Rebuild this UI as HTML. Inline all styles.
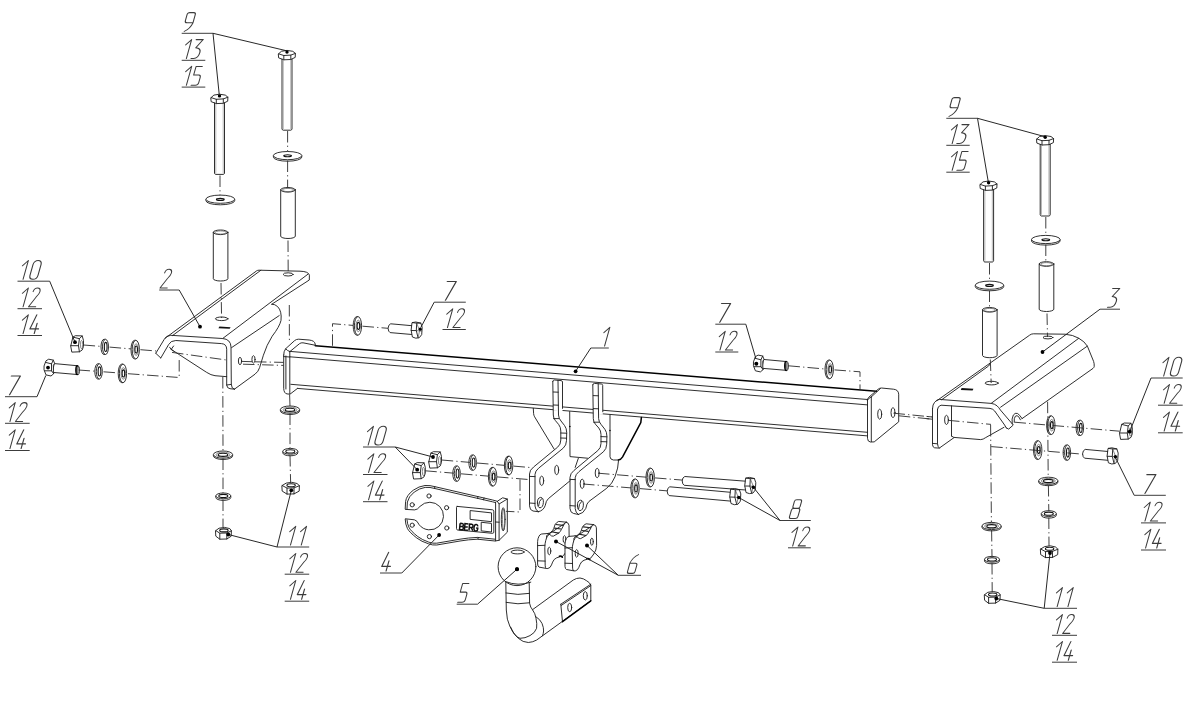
<!DOCTYPE html>
<html><head><meta charset="utf-8"><title>Tow bar exploded diagram</title>
<style>
html,body{margin:0;padding:0;background:#fff}
svg{display:block}
.l{fill:none;stroke:#1c1c1c;stroke-width:.92;stroke-linejoin:round;stroke-linecap:round}
.lf{fill:#fff;stroke:#1c1c1c;stroke-width:.92;stroke-linejoin:round;stroke-linecap:round}
.l2{fill:none;stroke:#555;stroke-width:.7;stroke-linejoin:round}
.l3{fill:none;stroke:#8a8a8a;stroke-width:.6}
.lm{fill:none;stroke:#222;stroke-width:1.15;stroke-linecap:round}
.lb{fill:none;stroke:#000;stroke-width:1.5;stroke-linejoin:round;stroke-linecap:round}
.t{fill:none;stroke:#3c3c3c;stroke-width:1.05;stroke-linejoin:round;stroke-linecap:round}
.u{fill:none;stroke:#3c3c3c;stroke-width:1}
.ld{fill:none;stroke:#1c1c1c;stroke-width:.95}
.c{fill:none;stroke:#2a2a2a;stroke-width:.9;stroke-dasharray:11.5 3.2 1.2 3.2}
.d{fill:#000;stroke:none}
.w{fill:#fff;stroke:#1c1c1c;stroke-width:.9}
.wg{fill:none;stroke:#777;stroke-width:.9}
.wd{fill:#fff;stroke:#111;stroke-width:1.1}
.k{fill:#111;stroke:none}
.wf{fill:#fff;stroke:none}
</style></head>
<body>
<svg width="1200" height="703" viewBox="0 0 1200 703" font-family="Liberation Sans, sans-serif">
<rect width="1200" height="703" fill="#fff"/>
<path class="u" d="M181.7,33.3 L213.0,33.3"/>
<path class="t" transform="matrix(1.05 0 -0.280 1 187.66 12.60)" d="M2,0 H5.8 Q7.8,0 7.8,2 V10.2 H2 Q0,10.2 0,8.2 V2 Q0,0 2,0Z M7.8,10.2 Q6.6,16 1.8,18.8"/>
<path class="u" d="M181.7,60.3 L205.3,60.3"/>
<path class="t" transform="matrix(1.02 0 -0.280 1 187.16 39.60)" d="M0,5.3 L4.4,0 V18.8"/>
<path class="t" transform="matrix(1.1 0 -0.280 1 195.86 39.60)" d="M0.3,0 H6.7 L2.0,8.1 Q6.9,8.6 6.9,12.6 Q6.9,18.8 2.8,18.8 H0.4"/>
<path class="u" d="M181.7,87.1 L205.3,87.1"/>
<path class="t" transform="matrix(1.02 0 -0.280 1 187.16 66.40)" d="M0,5.3 L4.4,0 V18.8"/>
<path class="t" transform="matrix(1.0 0 -0.280 1 196.06 66.40)" d="M6.2,0 H0 V8.6 H5.2 Q7.2,8.8 7.2,11 V16 Q7.2,18.8 4.6,18.8 H0.3"/>
<path class="u" d="M17.5,281.2 L49.7,281.2"/>
<path class="t" transform="matrix(1.02 0 -0.280 1 23.86 260.50)" d="M0,5.3 L4.4,0 V18.8"/>
<path class="t" transform="matrix(1.07 0 -0.280 1 34.16 260.50)" d="M3.75,0 C1.5,0 0,1.5 0,4 V14.8 C0,17.3 1.5,18.8 3.75,18.8 C6,18.8 7.5,17.3 7.5,14.8 V4 C7.5,1.5 6,0 3.75,0Z"/>
<path class="u" d="M17.5,308.7 L42.0,308.7"/>
<path class="t" transform="matrix(1.02 0 -0.280 1 23.86 288.00)" d="M0,5.3 L4.4,0 V18.8"/>
<path class="t" transform="matrix(0.96 0 -0.280 1 33.76 288.00)" d="M0.4,3.6 C0.6,1.3 2,0 3.9,0 C6,0 7.5,1.4 7.5,3.7 C7.5,5.6 6.6,7.2 5,9.2 L0,18.8 H7.5"/>
<path class="u" d="M17.5,335.5 L42.0,335.5"/>
<path class="t" transform="matrix(1.02 0 -0.280 1 23.86 314.80)" d="M0,5.3 L4.4,0 V18.8"/>
<path class="t" transform="matrix(1.13 0 -0.280 1 33.86 314.80)" d="M2.6,0 L0,14.1 H7.6 M5.0,8.4 V18.8"/>
<path class="u" d="M5.0,396.7 L37.0,396.7"/>
<path class="t" transform="matrix(1.2 0 -0.280 1 11.36 376.00)" d="M0,0 H7.5 L2.85,18.8"/>
<path class="u" d="M5.0,423.3 L29.7,423.3"/>
<path class="t" transform="matrix(1.02 0 -0.280 1 10.76 402.60)" d="M0,5.3 L4.4,0 V18.8"/>
<path class="t" transform="matrix(0.96 0 -0.280 1 20.66 402.60)" d="M0.4,3.6 C0.6,1.3 2,0 3.9,0 C6,0 7.5,1.4 7.5,3.7 C7.5,5.6 6.6,7.2 5,9.2 L0,18.8 H7.5"/>
<path class="u" d="M5.0,450.5 L29.7,450.5"/>
<path class="t" transform="matrix(1.02 0 -0.280 1 10.76 429.80)" d="M0,5.3 L4.4,0 V18.8"/>
<path class="t" transform="matrix(1.13 0 -0.280 1 20.76 429.80)" d="M2.6,0 L0,14.1 H7.6 M5.0,8.4 V18.8"/>
<path class="u" d="M159.2,290.0 L179.2,290.0"/>
<path class="t" transform="matrix(0.96 0 -0.280 1 165.26 269.30)" d="M0.4,3.6 C0.6,1.3 2,0 3.9,0 C6,0 7.5,1.4 7.5,3.7 C7.5,5.6 6.6,7.2 5,9.2 L0,18.8 H7.5"/>
<path class="u" d="M277.0,547.0 L309.2,547.0"/>
<path class="t" transform="matrix(1.02 0 -0.280 1 291.26 526.30)" d="M0,5.3 L4.4,0 V18.8"/>
<path class="t" transform="matrix(1.02 0 -0.280 1 302.06 526.30)" d="M0,5.3 L4.4,0 V18.8"/>
<path class="u" d="M284.7,574.2 L309.2,574.2"/>
<path class="t" transform="matrix(1.02 0 -0.280 1 291.26 553.50)" d="M0,5.3 L4.4,0 V18.8"/>
<path class="t" transform="matrix(0.96 0 -0.280 1 301.16 553.50)" d="M0.4,3.6 C0.6,1.3 2,0 3.9,0 C6,0 7.5,1.4 7.5,3.7 C7.5,5.6 6.6,7.2 5,9.2 L0,18.8 H7.5"/>
<path class="u" d="M284.7,601.2 L309.2,601.2"/>
<path class="t" transform="matrix(1.02 0 -0.280 1 291.26 580.50)" d="M0,5.3 L4.4,0 V18.8"/>
<path class="t" transform="matrix(1.13 0 -0.280 1 301.26 580.50)" d="M2.6,0 L0,14.1 H7.6 M5.0,8.4 V18.8"/>
<path class="u" d="M363.0,447.0 L395.2,447.0"/>
<path class="t" transform="matrix(1.02 0 -0.280 1 368.96 426.30)" d="M0,5.3 L4.4,0 V18.8"/>
<path class="t" transform="matrix(1.07 0 -0.280 1 379.26 426.30)" d="M3.75,0 C1.5,0 0,1.5 0,4 V14.8 C0,17.3 1.5,18.8 3.75,18.8 C6,18.8 7.5,17.3 7.5,14.8 V4 C7.5,1.5 6,0 3.75,0Z"/>
<path class="u" d="M363.0,474.5 L387.5,474.5"/>
<path class="t" transform="matrix(1.02 0 -0.280 1 369.36 453.80)" d="M0,5.3 L4.4,0 V18.8"/>
<path class="t" transform="matrix(0.96 0 -0.280 1 379.26 453.80)" d="M0.4,3.6 C0.6,1.3 2,0 3.9,0 C6,0 7.5,1.4 7.5,3.7 C7.5,5.6 6.6,7.2 5,9.2 L0,18.8 H7.5"/>
<path class="u" d="M363.0,501.7 L387.5,501.7"/>
<path class="t" transform="matrix(1.02 0 -0.280 1 369.36 481.00)" d="M0,5.3 L4.4,0 V18.8"/>
<path class="t" transform="matrix(1.13 0 -0.280 1 379.36 481.00)" d="M2.6,0 L0,14.1 H7.6 M5.0,8.4 V18.8"/>
<path class="u" d="M434.2,302.2 L465.8,302.2"/>
<path class="t" transform="matrix(1.2 0 -0.280 1 447.26 281.50)" d="M0,0 H7.5 L2.85,18.8"/>
<path class="u" d="M442.5,329.5 L465.8,329.5"/>
<path class="t" transform="matrix(1.02 0 -0.280 1 448.26 308.80)" d="M0,5.3 L4.4,0 V18.8"/>
<path class="t" transform="matrix(0.96 0 -0.280 1 458.16 308.80)" d="M0.4,3.6 C0.6,1.3 2,0 3.9,0 C6,0 7.5,1.4 7.5,3.7 C7.5,5.6 6.6,7.2 5,9.2 L0,18.8 H7.5"/>
<path class="u" d="M590.8,348.0 L608.8,348.0"/>
<path class="t" transform="matrix(1.02 0 -0.280 1 605.36 327.30)" d="M0,5.3 L4.4,0 V18.8"/>
<path class="u" d="M715.3,324.2 L745.8,324.2"/>
<path class="t" transform="matrix(1.2 0 -0.280 1 721.56 303.50)" d="M0,0 H7.5 L2.85,18.8"/>
<path class="u" d="M715.3,352.0 L738.3,352.0"/>
<path class="t" transform="matrix(1.02 0 -0.280 1 720.76 331.30)" d="M0,5.3 L4.4,0 V18.8"/>
<path class="t" transform="matrix(0.96 0 -0.280 1 730.66 331.30)" d="M0.4,3.6 C0.6,1.3 2,0 3.9,0 C6,0 7.5,1.4 7.5,3.7 C7.5,5.6 6.6,7.2 5,9.2 L0,18.8 H7.5"/>
<path class="u" d="M780.0,520.5 L810.8,520.5"/>
<path class="t" transform="matrix(1.05 0 -0.280 1 794.26 499.80)" d="M2.4,0 H5.6 Q7.4,0 7.4,1.8 V6.8 Q7.4,8.6 5.6,8.6 H2.4 Q0.6,8.6 0.6,6.8 V1.8 Q0.6,0 2.4,0Z M2,8.6 H6 Q8,8.6 8,10.6 V16.8 Q8,18.8 6,18.8 H2 Q0,18.8 0,16.8 V10.6 Q0,8.6 2,8.6Z"/>
<path class="u" d="M788.0,547.8 L810.8,547.8"/>
<path class="t" transform="matrix(1.02 0 -0.280 1 793.46 527.10)" d="M0,5.3 L4.4,0 V18.8"/>
<path class="t" transform="matrix(0.96 0 -0.280 1 803.36 527.10)" d="M0.4,3.6 C0.6,1.3 2,0 3.9,0 C6,0 7.5,1.4 7.5,3.7 C7.5,5.6 6.6,7.2 5,9.2 L0,18.8 H7.5"/>
<path class="u" d="M618.3,575.3 L641.0,575.3"/>
<path class="t" transform="matrix(1.0 0 -0.280 1 631.96 554.60)" d="M6.6,0 Q1.6,2.6 0.3,8.6 V16.8 Q0.3,18.8 2.3,18.8 H5.8 Q7.8,18.8 7.8,16.8 V10.6 Q7.8,8.6 5.8,8.6 H0.3"/>
<path class="u" d="M456.7,604.2 L477.5,604.2"/>
<path class="t" transform="matrix(1.0 0 -0.280 1 462.66 583.50)" d="M6.2,0 H0 V8.6 H5.2 Q7.2,8.8 7.2,11 V16 Q7.2,18.8 4.6,18.8 H0.3"/>
<path class="u" d="M380.0,573.0 L401.8,573.0"/>
<path class="t" transform="matrix(1.13 0 -0.280 1 385.71 552.30)" d="M2.6,0 L0,14.1 H7.6 M5.0,8.4 V18.8"/>
<path class="u" d="M946.3,118.3 L977.5,118.3"/>
<path class="t" transform="matrix(1.05 0 -0.280 1 952.46 97.60)" d="M2,0 H5.8 Q7.8,0 7.8,2 V10.2 H2 Q0,10.2 0,8.2 V2 Q0,0 2,0Z M7.8,10.2 Q6.6,16 1.8,18.8"/>
<path class="u" d="M946.3,145.3 L969.7,145.3"/>
<path class="t" transform="matrix(1.02 0 -0.280 1 952.96 124.60)" d="M0,5.3 L4.4,0 V18.8"/>
<path class="t" transform="matrix(1.1 0 -0.280 1 961.66 124.60)" d="M0.3,0 H6.7 L2.0,8.1 Q6.9,8.6 6.9,12.6 Q6.9,18.8 2.8,18.8 H0.4"/>
<path class="u" d="M946.3,172.2 L969.7,172.2"/>
<path class="t" transform="matrix(1.02 0 -0.280 1 952.96 151.50)" d="M0,5.3 L4.4,0 V18.8"/>
<path class="t" transform="matrix(1.0 0 -0.280 1 961.86 151.50)" d="M6.2,0 H0 V8.6 H5.2 Q7.2,8.8 7.2,11 V16 Q7.2,18.8 4.6,18.8 H0.3"/>
<path class="u" d="M1100.0,309.2 L1120.0,309.2"/>
<path class="t" transform="matrix(1.1 0 -0.280 1 1112.36 288.50)" d="M0.3,0 H6.7 L2.0,8.1 Q6.9,8.6 6.9,12.6 Q6.9,18.8 2.8,18.8 H0.4"/>
<path class="u" d="M1151.0,378.0 L1182.7,378.0"/>
<path class="t" transform="matrix(1.02 0 -0.280 1 1164.46 357.30)" d="M0,5.3 L4.4,0 V18.8"/>
<path class="t" transform="matrix(1.07 0 -0.280 1 1174.76 357.30)" d="M3.75,0 C1.5,0 0,1.5 0,4 V14.8 C0,17.3 1.5,18.8 3.75,18.8 C6,18.8 7.5,17.3 7.5,14.8 V4 C7.5,1.5 6,0 3.75,0Z"/>
<path class="u" d="M1158.0,405.2 L1182.7,405.2"/>
<path class="t" transform="matrix(1.02 0 -0.280 1 1164.96 384.50)" d="M0,5.3 L4.4,0 V18.8"/>
<path class="t" transform="matrix(0.96 0 -0.280 1 1174.86 384.50)" d="M0.4,3.6 C0.6,1.3 2,0 3.9,0 C6,0 7.5,1.4 7.5,3.7 C7.5,5.6 6.6,7.2 5,9.2 L0,18.8 H7.5"/>
<path class="u" d="M1158.0,432.8 L1182.7,432.8"/>
<path class="t" transform="matrix(1.02 0 -0.280 1 1164.96 412.10)" d="M0,5.3 L4.4,0 V18.8"/>
<path class="t" transform="matrix(1.13 0 -0.280 1 1174.96 412.10)" d="M2.6,0 L0,14.1 H7.6 M5.0,8.4 V18.8"/>
<path class="u" d="M1134.2,495.3 L1165.8,495.3"/>
<path class="t" transform="matrix(1.2 0 -0.280 1 1146.86 474.60)" d="M0,0 H7.5 L2.85,18.8"/>
<path class="u" d="M1141.0,522.9 L1166.0,522.9"/>
<path class="t" transform="matrix(1.02 0 -0.280 1 1145.76 502.20)" d="M0,5.3 L4.4,0 V18.8"/>
<path class="t" transform="matrix(0.96 0 -0.280 1 1155.66 502.20)" d="M0.4,3.6 C0.6,1.3 2,0 3.9,0 C6,0 7.5,1.4 7.5,3.7 C7.5,5.6 6.6,7.2 5,9.2 L0,18.8 H7.5"/>
<path class="u" d="M1141.0,550.0 L1166.0,550.0"/>
<path class="t" transform="matrix(1.02 0 -0.280 1 1146.36 529.30)" d="M0,5.3 L4.4,0 V18.8"/>
<path class="t" transform="matrix(1.13 0 -0.280 1 1156.36 529.30)" d="M2.6,0 L0,14.1 H7.6 M5.0,8.4 V18.8"/>
<path class="u" d="M1044.2,608.3 L1077.0,608.3"/>
<path class="t" transform="matrix(1.02 0 -0.280 1 1057.96 587.60)" d="M0,5.3 L4.4,0 V18.8"/>
<path class="t" transform="matrix(1.02 0 -0.280 1 1068.76 587.60)" d="M0,5.3 L4.4,0 V18.8"/>
<path class="u" d="M1052.0,635.3 L1077.0,635.3"/>
<path class="t" transform="matrix(1.02 0 -0.280 1 1057.96 614.60)" d="M0,5.3 L4.4,0 V18.8"/>
<path class="t" transform="matrix(0.96 0 -0.280 1 1067.86 614.60)" d="M0.4,3.6 C0.6,1.3 2,0 3.9,0 C6,0 7.5,1.4 7.5,3.7 C7.5,5.6 6.6,7.2 5,9.2 L0,18.8 H7.5"/>
<path class="u" d="M1052.0,662.2 L1077.0,662.2"/>
<path class="t" transform="matrix(1.02 0 -0.280 1 1057.96 641.50)" d="M0,5.3 L4.4,0 V18.8"/>
<path class="t" transform="matrix(1.13 0 -0.280 1 1067.96 641.50)" d="M2.6,0 L0,14.1 H7.6 M5.0,8.4 V18.8"/>
<path class="l" d="M278.6,53.8 L281.4,51.3 L287.0,50.4 L292.8,51.3 L295.4,53.4 L295.2,57.4 L290.8,59.5 L283.8,59.8 L279.0,58.0Z"/>
<path class="l" d="M278.6,53.8 L283.8,55.5 L290.8,55.1 L295.4,53.4 M283.8,55.5 V59.8 M290.8,55.1 V59.5"/>
<path class="l" d="M282.0,59.2 V129.0 q0.2,1 1.2,1.2 H290.8 q1,-0.2 1.2,-1.2 V59.2"/>
<path class="l3" d="M283.3,59.7 V129.0 M290.7,59.7 V129.0"/>
<path class="l" d="M211.1,97.6 L213.9,95.1 L219.5,94.2 L225.3,95.1 L227.9,97.2 L227.7,101.2 L223.3,103.3 L216.3,103.6 L211.5,101.8Z"/>
<path class="l" d="M211.1,97.6 L216.3,99.3 L223.3,98.9 L227.9,97.2 M216.3,99.3 V103.6 M223.3,98.9 V103.3"/>
<path class="l" d="M214.5,103.0 V173.2 q0.2,1 1.2,1.2 H223.3 q1,-0.2 1.2,-1.2 V103.0"/>
<path class="l3" d="M215.8,103.5 V173.2 M223.2,103.5 V173.2"/>
<path class="w" d="M273.4,155.6 v1.5 a14.2,4.1 0 0 0 28.4,0 v-1.5 "/>
<ellipse class="w" cx="287.6" cy="155.6" rx="14.20" ry="4.10"/>
<ellipse class="wd" cx="287.6" cy="155.8" rx="3.83" ry="1.00"/>
<ellipse class="l" cx="288.0" cy="189.8" rx="7.30" ry="2.30"/>
<ellipse class="l2" cx="288.0" cy="190.0" rx="5.70" ry="1.60"/>
<path class="l" d="M280.7,189.8 V236.2 a7.3,2.3 0 0 0 14.6,0 V189.8"/>
<path class="w" d="M205.9,199.2 v1.5 a14.4,4.1 0 0 0 28.8,0 v-1.5 "/>
<ellipse class="w" cx="220.3" cy="199.2" rx="14.40" ry="4.10"/>
<ellipse class="wd" cx="220.3" cy="199.4" rx="3.89" ry="1.00"/>
<ellipse class="l" cx="220.6" cy="232.3" rx="7.30" ry="2.30"/>
<ellipse class="l2" cx="220.6" cy="232.5" rx="5.70" ry="1.60"/>
<path class="l" d="M213.3,232.3 V278.7 a7.3,2.3 0 0 0 14.6,0 V232.3"/>
<path class="w" d="M280.4,409.6 v1.3 a9.6,3.6 0 0 0 19.2,0 v-1.3 "/>
<ellipse class="w" cx="290.0" cy="409.6" rx="9.60" ry="3.60"/>
<ellipse class="wg" cx="290.0" cy="409.7" rx="6.91" ry="2.52"/>
<ellipse class="wd" cx="290.0" cy="409.8" rx="4.80" ry="1.62"/>
<path class="w" d="M282.8,451.3 v1.6 a7.5,2.9 0 0 0 15.0,0 v-1.6 "/>
<ellipse class="w" cx="290.3" cy="451.3" rx="7.50" ry="2.90"/>
<ellipse class="wd" cx="290.3" cy="451.4" rx="4.50" ry="1.59"/>
<path class="l" d="M282.2,485.5 L286.2,483.1 L291.8,482.3 L297.0,483.5 L299.4,485.7 L299.2,491.1 L294.0,493.9 L287.0,494.1 L282.5,491.3Z"/>
<path class="l" d="M282.2,485.5 L287.0,488.1 L294.0,487.9 L299.4,485.7 M287.0,488.1 V494.1 M294.0,487.9 V493.9"/>
<ellipse class="wd" cx="291.1" cy="485.3" rx="4.20" ry="1.50"/>
<path class="w" d="M213.4,454.6 v1.3 a9.6,3.6 0 0 0 19.2,0 v-1.3 "/>
<ellipse class="w" cx="223.0" cy="454.6" rx="9.60" ry="3.60"/>
<ellipse class="wg" cx="223.0" cy="454.7" rx="6.91" ry="2.52"/>
<ellipse class="wd" cx="223.0" cy="454.8" rx="4.80" ry="1.62"/>
<path class="w" d="M215.8,495.9 v1.6 a7.5,2.9 0 0 0 15.0,0 v-1.6 "/>
<ellipse class="w" cx="223.3" cy="495.9" rx="7.50" ry="2.90"/>
<ellipse class="wd" cx="223.3" cy="496.0" rx="4.50" ry="1.59"/>
<path class="l" d="M215.8,530.6 L219.0,528.2 L224.6,527.4 L229.8,528.6 L231.4,530.8 L231.2,536.2 L226.8,539.0 L219.8,539.2 L216.1,536.4Z"/>
<path class="l" d="M215.8,530.6 L219.8,533.2 L226.8,533.0 L231.4,530.8 M219.8,533.2 V539.2 M226.8,533.0 V539.0"/>
<ellipse class="wd" cx="223.9" cy="530.4" rx="4.20" ry="1.50"/>
<path class="l" d="M1036.8,139.0 L1039.6,136.5 L1045.2,135.6 L1051.0,136.5 L1053.6,138.6 L1053.4,142.6 L1049.0,144.7 L1042.0,145.0 L1037.2,143.2Z"/>
<path class="l" d="M1036.8,139.0 L1042.0,140.7 L1049.0,140.3 L1053.6,138.6 M1042.0,140.7 V145.0 M1049.0,140.3 V144.7"/>
<path class="l" d="M1040.2,144.4 V214.8 q0.2,1 1.2,1.2 H1049.0 q1,-0.2 1.2,-1.2 V144.4"/>
<path class="l3" d="M1041.5,144.9 V214.8 M1048.9,144.9 V214.8"/>
<path class="l" d="M980.2,184.4 L983.0,181.9 L988.6,181.0 L994.4,181.9 L997.0,184.0 L996.8,188.0 L992.4,190.1 L985.4,190.4 L980.6,188.6Z"/>
<path class="l" d="M980.2,184.4 L985.4,186.1 L992.4,185.7 L997.0,184.0 M985.4,186.1 V190.4 M992.4,185.7 V190.1"/>
<path class="l" d="M983.6,189.8 V260.8 q0.2,1 1.2,1.2 H992.4 q1,-0.2 1.2,-1.2 V189.8"/>
<path class="l3" d="M984.9,190.3 V260.8 M992.3,190.3 V260.8"/>
<path class="w" d="M1031.5,239.5 v1.5 a14.3,4.1 0 0 0 28.6,0 v-1.5 "/>
<ellipse class="w" cx="1045.8" cy="239.5" rx="14.30" ry="4.10"/>
<ellipse class="wd" cx="1045.8" cy="239.7" rx="3.86" ry="1.00"/>
<ellipse class="l" cx="1046.5" cy="264.0" rx="7.30" ry="2.30"/>
<ellipse class="l2" cx="1046.5" cy="264.2" rx="5.70" ry="1.60"/>
<path class="l" d="M1039.2,264.0 V309.2 a7.3,2.3 0 0 0 14.6,0 V264.0"/>
<path class="w" d="M975.3,285.2 v1.5 a14.2,4.1 0 0 0 28.4,0 v-1.5 "/>
<ellipse class="w" cx="989.5" cy="285.2" rx="14.20" ry="4.10"/>
<ellipse class="wd" cx="989.5" cy="285.4" rx="3.83" ry="1.00"/>
<ellipse class="l" cx="989.8" cy="309.8" rx="7.30" ry="2.30"/>
<ellipse class="l2" cx="989.8" cy="310.0" rx="5.70" ry="1.60"/>
<path class="l" d="M982.5,309.8 V355.4 a7.3,2.3 0 0 0 14.6,0 V309.8"/>
<path class="w" d="M1038.7,480.8 v1.3 a9.6,3.6 0 0 0 19.2,0 v-1.3 "/>
<ellipse class="w" cx="1048.3" cy="480.8" rx="9.60" ry="3.60"/>
<ellipse class="wg" cx="1048.3" cy="480.9" rx="6.91" ry="2.52"/>
<ellipse class="wd" cx="1048.3" cy="481.0" rx="4.80" ry="1.62"/>
<path class="w" d="M1041.3,513.6 v1.6 a7.5,2.9 0 0 0 15.0,0 v-1.6 "/>
<ellipse class="w" cx="1048.8" cy="513.6" rx="7.50" ry="2.90"/>
<ellipse class="wd" cx="1048.8" cy="513.7" rx="4.50" ry="1.59"/>
<path class="l" d="M1040.7,549.0 L1044.7,546.6 L1050.3,545.8 L1055.5,547.0 L1057.9,549.2 L1057.7,554.6 L1052.5,557.4 L1045.5,557.6 L1041.0,554.8Z"/>
<path class="l" d="M1040.7,549.0 L1045.5,551.6 L1052.5,551.4 L1057.9,549.2 M1045.5,551.6 V557.6 M1052.5,551.4 V557.4"/>
<ellipse class="wd" cx="1049.6" cy="548.8" rx="4.20" ry="1.50"/>
<path class="w" d="M982.0,526.0 v1.3 a9.6,3.6 0 0 0 19.2,0 v-1.3 "/>
<ellipse class="w" cx="991.6" cy="526.0" rx="9.60" ry="3.60"/>
<ellipse class="wg" cx="991.6" cy="526.1" rx="6.91" ry="2.52"/>
<ellipse class="wd" cx="991.6" cy="526.2" rx="4.80" ry="1.62"/>
<path class="w" d="M984.5,559.3 v1.6 a7.5,2.9 0 0 0 15.0,0 v-1.6 "/>
<ellipse class="w" cx="992.0" cy="559.3" rx="7.50" ry="2.90"/>
<ellipse class="wd" cx="992.0" cy="559.4" rx="4.50" ry="1.59"/>
<path class="l" d="M984.6,594.7 L987.8,592.3 L993.4,591.5 L998.6,592.7 L1000.2,594.9 L1000.0,600.3 L995.6,603.1 L988.6,603.3 L984.9,600.5Z"/>
<path class="l" d="M984.6,594.7 L988.6,597.3 L995.6,597.1 L1000.2,594.9 M988.6,597.3 V603.3 M995.6,597.1 V603.1"/>
<ellipse class="wd" cx="992.7" cy="594.5" rx="4.20" ry="1.50"/>
<path class="l" d="M165,338.3 L256.7,270.8 Q257.6,270.2 259,270.2 L300,271.2 Q308.6,271.4 309.4,275.2 L309.3,280 L271.8,304.2"/>
<path class="l" d="M172.5,335.6 L260.8,270.3"/>
<path class="l" d="M222.8,338.4 L307.8,274.3"/>
<path class="l" d="M231.6,347.6 L279.2,315.6"/>
<path class="l" d="M155.8,353.3 L164.2,339.4 Q166.2,335.4 170.8,335.3 L222.5,338.5 Q230.8,339.2 231,347 L231.3,384.4 Q231.4,388.8 234.4,389.2"/>
<path class="l" d="M160.8,358 L168.6,344.6 Q170.6,340.6 175.8,340.5 L221.5,343.6 Q226.6,344 226.7,349.2 L226.7,385 Q227,388.4 230,388.7 L234.4,389.2"/>
<path class="l" d="M155.8,353.3 L160.8,358 M226.7,385 L231.3,384.4"/>
<path class="l" d="M169.6,347.2 L171.2,349.4 L173.6,346 M171.2,349.4 L173.5,351"/>
<path class="l" d="M171.2,349.4 L206.7,372.4 Q211,375.2 215,375.7 L226.7,376.7"/>
<path class="l" d="M234.4,389.2 L255,374.2 Q258.4,371.6 259.6,367.6 L263.4,355.2 Q266.6,345 272.2,336.2 Q279.6,326.6 281,320.4 Q282,311 277.6,306.6 Q275,304 271.8,304.2"/>
<ellipse class="l" cx="240.0" cy="361.0" rx="1.60" ry="3.70"/>
<ellipse class="l" cx="253.5" cy="359.4" rx="1.60" ry="3.70"/>
<ellipse class="l" cx="221.7" cy="318.8" rx="6.30" ry="1.80"/>
<path class="k" d="M219.4,326.6 L230.6,327.2 L229.6,328.8 L218.4,328.2Z"/>
<ellipse class="l" cx="288.2" cy="274.4" rx="5.00" ry="1.60"/>
<path class="lf" d="M70.8,345.7 L72.9,337.1 L75.4,335.7 L82.2,335.9 L83.5,340.5 L83.5,346.4 L82.2,350.0 L79.4,351.8 L72.2,352.1Z"/>
<path class="l" d="M72.9,337.1 L79.4,338.7 L82.2,335.9 M79.4,338.7 L78.5,345.7 L79.4,351.8 M70.8,345.7 L78.5,345.7"/>
<ellipse class="l2" cx="81.6" cy="344.6" rx="1.10" ry="4.20"/>
<path class="w" d="M105.5,339.3 h-1.5 a3.0,7.6 0 0 0 0,15.2 h1.5"/>
<ellipse class="w" cx="105.5" cy="346.9" rx="3.00" ry="7.60"/>
<ellipse class="wd" cx="105.7" cy="346.9" rx="1.35" ry="4.56"/>
<path class="w" d="M135.8,340.3 h-1.2 a3.6,9.3 0 0 0 0,18.6 h1.2"/>
<ellipse class="w" cx="135.8" cy="349.6" rx="3.60" ry="9.30"/>
<ellipse class="wg" cx="136.1" cy="349.6" rx="2.23" ry="5.77"/>
<ellipse class="wd" cx="136.2" cy="349.6" rx="1.30" ry="3.53"/>
<path class="lf" d="M54.6,363.6 L78.1,365.8 L78.1,374.6 L52.8,372.4Z"/>
<ellipse class="lf" cx="78.1" cy="370.2" rx="1.30" ry="4.40"/>
<path class="lb" d="M77.2,365.8 a1.3,4.4 0 0 0 0,8.8"/>
<ellipse class="l2" cx="78.6" cy="370.2" rx="0.90" ry="3.00"/>
<path class="lf" d="M44.2,365.6 L46.0,360.8 L48.7,359.2 L53.3,360.1 L54.6,363.4 L53.4,365.3 L53.4,372.3 L53.7,373.7 L51.0,376.0 L46.0,374.9 L44.2,370.2Z"/>
<path class="l" d="M45.7,362.4 L51.5,363.9 L53.3,360.1 M51.5,363.9 L51.5,370.8 L53.7,373.7 M44.8,370.8 L51.5,370.8"/>
<path class="w" d="M99.3,363.8 h-1.5 a3.0,7.6 0 0 0 0,15.2 h1.5"/>
<ellipse class="w" cx="99.3" cy="371.4" rx="3.00" ry="7.60"/>
<ellipse class="wd" cx="99.5" cy="371.4" rx="1.35" ry="4.56"/>
<path class="w" d="M123.0,364.1 h-1.2 a3.6,9.3 0 0 0 0,18.6 h1.2"/>
<ellipse class="w" cx="123.0" cy="373.4" rx="3.60" ry="9.30"/>
<ellipse class="wg" cx="123.3" cy="373.4" rx="2.23" ry="5.77"/>
<ellipse class="wd" cx="123.4" cy="373.4" rx="1.30" ry="3.53"/>
<path class="lb" d="M315.3,345.7 L876.5,391.3"/>
<path class="l" d="M290,351.4 L867.5,399.5"/>
<path class="l" d="M290,356.8 L867.5,404.9"/>
<path class="l" d="M290.8,384.3 L867.5,432.3"/>
<path class="l" d="M297.5,388.4 L867.5,435.9"/>
<path class="l" d="M283.7,355 Q283.6,351.4 285.6,348.8 L294.6,340.6 Q296.2,339.2 298.6,339.2 L309.2,340 Q314.6,340.6 315.2,344 L315.3,345.4"/>
<path class="l" d="M283.7,355 L283.7,388.3 Q283.9,393.4 287,393.9 L290,394.2 L297.5,388.4"/>
<path class="l" d="M285.9,356 L285.9,389 M289.8,351.6 L289.8,393.6 M283.7,356.6 L289.8,357"/>
<path class="l" d="M290,351.5 L299.6,343.6 Q301,342.6 303,342.8 L315,345.2"/>
<path class="l" d="M285.6,348.8 Q287.4,350.8 289.8,351.6"/>
<path class="l" d="M867.5,400 L867.5,438.3 Q867.7,441.8 870.4,442 L874.2,441.9 L898.7,421.8 L898.7,394.2 Q898.4,389.6 893.4,389.2 L881.5,388 Q879.6,388 878.2,389.2 L868.6,397.4 Q867.4,398.6 867.5,400"/>
<path class="l" d="M871.3,396.9 L871.3,441.6 M871.3,396.9 L880.4,388.6"/>
<path class="l" d="M867.5,400 Q869,397.6 871.3,396.9"/>
<ellipse class="l" cx="879.7" cy="414.2" rx="2.00" ry="5.00"/>
<ellipse class="l" cx="893.0" cy="412.6" rx="2.00" ry="5.00"/>
<path class="w" d="M358.0,316.6 h-1.2 a3.6,9.3 0 0 0 0,18.6 h1.2"/>
<ellipse class="w" cx="358.0" cy="325.9" rx="3.60" ry="9.30"/>
<ellipse class="wg" cx="358.3" cy="325.9" rx="2.23" ry="5.77"/>
<ellipse class="wd" cx="358.4" cy="325.9" rx="1.30" ry="3.53"/>
<path class="lf" d="M412.0,325.7 L390.7,323.8 Q388.3,324.6 388.1,328.2 Q388.3,331.8 390.1,332.6 L412.0,334.5Z"/>
<path class="lf" d="M412.4,322.6 L415.8,322.0 L420.8,323.1 L422.2,327.3 L421.7,334.6 L419.4,337.6 L415.8,338.2 L412.4,337.0 L411.2,330.5Z"/>
<path class="l" d="M412.4,322.6 L416.7,323.2 L420.8,323.1 M416.7,323.2 L416.3,330.6 L418.1,337.9 M411.2,330.5 L416.3,330.6"/>
<path class="l2" d="M416.3,330.6 L421.9,331.2 M416.7,323.2 L419.6,330.6 L418.1,337.9"/>
<path class="lf" d="M764.0,359.5 L787.0,361.6 L787.0,370.4 L762.2,368.3Z"/>
<ellipse class="lf" cx="787.0" cy="366.0" rx="1.30" ry="4.40"/>
<path class="lb" d="M786.1,361.6 a1.3,4.4 0 0 0 0,8.8"/>
<ellipse class="l2" cx="787.5" cy="366.0" rx="0.90" ry="3.00"/>
<path class="lf" d="M753.6,361.5 L755.4,356.7 L758.1,355.1 L762.7,356.0 L764.0,359.3 L762.8,361.2 L762.8,368.2 L763.1,369.6 L760.4,371.9 L755.4,370.8 L753.6,366.1Z"/>
<path class="l" d="M755.1,358.3 L760.9,359.8 L762.7,356.0 M760.9,359.8 L760.9,366.7 L763.1,369.6 M754.2,366.7 L760.9,366.7"/>
<path class="w" d="M829.8,360.1 h-1.2 a3.6,9.3 0 0 0 0,18.6 h1.2"/>
<ellipse class="w" cx="829.8" cy="369.4" rx="3.60" ry="9.30"/>
<ellipse class="wg" cx="830.1" cy="369.4" rx="2.23" ry="5.77"/>
<ellipse class="wd" cx="830.2" cy="369.4" rx="1.30" ry="3.53"/>
<path class="l" d="M533.3,408.3 L533.6,413.6 Q533.8,415.4 534.6,416.8 L554.2,449.2"/>
<path class="l" d="M569.7,411.6 L570,456.6 L587.5,458.2 M578.3,458.4 L575.2,467.4"/>
<path class="lb" d="M569.8,426.5 h0.1 M609.9,430.5 h0.1"/>
<path class="l" d="M610,415 L610,456.8 Q610.2,459.6 613.4,460 L618.4,460"/>
<path class="lb" d="M618.4,460 Q621,459.4 622.6,456.8 L640.8,422.6 L641.4,417.4"/>
<path class="wf" d="M553,381 L562.5,381 L562.5,411.4 L553.2,410.6Z M593,384.6 L602.7,384.6 L602.8,414.8 L593.3,414Z"/>
<path class="l" d="M552.8,381.4 Q553,380 554.4,380 L561.2,380.6 Q562.4,380.8 562.5,382 L562.5,408.4"/>
<path class="l" d="M552.8,381.4 L553.3,415 Q553.4,418.4 555.4,420.6 L558.6,424.4 Q560.8,427 560.8,431 L560.8,440 Q560.8,444.6 557.6,447.2 L533.6,467 Q529.6,470 529.5,474 L529.5,505.8 Q529.8,510.4 533,511 L538.3,511.7"/>
<path class="l" d="M558,380.4 L558.5,415 Q558.8,418.6 561,421 L564.6,425.6 Q566.7,428.4 566.7,432.6 L566.5,440.6 Q566.4,445.4 563.2,448.2 L538.6,468.2 Q535.2,471 535,474.4 L535,506 Q535.2,510 538.3,511.7"/>
<path class="l" d="M538.3,511.7 Q543.4,510.8 545.2,505.6 Q546,500.6 548.4,498.6 L570,480.8"/>
<path class="l" d="M553.3,392 L558.2,392.2 M553.4,405 L558.4,405.2 M553.6,418.6 L559,418.6 M560.8,433 L566.7,433.2 M560.8,438 L566.6,438.2 M529.5,476.4 L535,476.6 M529.5,503 L535,503.4"/>
<ellipse class="l" cx="556.7" cy="470.0" rx="2.00" ry="4.70"/>
<ellipse class="l" cx="541.7" cy="480.8" rx="2.00" ry="4.70"/>
<path class="l" d="M537.4,503 Q537.2,497.8 540.6,497.4 Q543.6,497.6 543.4,502.4 Q543,507.6 540,507.8 Q537.6,507.6 537.4,503 M538.6,505.8 Q538.8,500.8 541.6,498.6"/>
<path class="l" d="M592.8,384.8 Q593,383.4 594.4,383.4 L601.4,384 Q602.6,384.2 602.7,385.4 L602.8,411.8"/>
<path class="l" d="M592.8,384.8 L593.3,418.6 Q593.4,422 595.4,424.2 L598.8,428 Q601,430.6 601,434.6 L601,443.4 Q601,448 597.8,450.6 L574,470.4 Q570.2,473.4 570,477.4 L570,508.4 Q570.3,512.8 573.4,513.4 L578.4,514.5"/>
<path class="l" d="M598.2,383.8 L598.6,418.6 Q598.9,422.2 601.2,424.6 L604.8,429.2 Q606.9,432 606.9,436.2 L606.7,444.2 Q606.6,449 603.4,451.8 L579,471.6 Q575.4,474.4 575.2,477.8 L575.2,508.6 Q575.4,512.6 578.4,514.5"/>
<path class="l" d="M578.4,514.5 Q583.8,513.4 585.8,508.4 Q586.6,503.4 589,501.4 L606.8,488.2 Q612.4,483.6 615,476.8 Q618.4,468 618.6,460"/>
<path class="l" d="M593.3,395.6 L598.4,395.8 M593.4,408.6 L598.6,408.8 M593.6,422.2 L599.2,422.2 M601,436.6 L606.9,436.8 M601,441.6 L606.8,441.8 M570,479.4 L575.2,479.6 M570,505.6 L575.2,506"/>
<ellipse class="l" cx="597.2" cy="473.0" rx="2.00" ry="4.70"/>
<ellipse class="l" cx="582.2" cy="483.8" rx="2.00" ry="4.70"/>
<path class="l" d="M577.4,505.8 Q577.2,500.6 580.6,500.2 Q583.6,500.4 583.4,505.2 Q583,510.4 580,510.6 Q577.6,510.4 577.4,505.8 M578.6,508.6 Q578.8,503.6 581.6,501.4"/>
<path class="lf" d="M428.8,461.7 L430.9,453.1 L433.4,451.7 L440.2,451.9 L441.5,456.5 L441.5,462.4 L440.2,466.0 L437.4,467.8 L430.2,468.1Z"/>
<path class="l" d="M430.9,453.1 L437.4,454.7 L440.2,451.9 M437.4,454.7 L436.5,461.7 L437.4,467.8 M428.8,461.7 L436.5,461.7"/>
<ellipse class="l2" cx="439.6" cy="460.6" rx="1.10" ry="4.20"/>
<path class="lf" d="M412.6,472.6 L414.7,464.0 L417.2,462.6 L424.0,462.8 L425.3,467.4 L425.3,473.3 L424.0,476.9 L421.2,478.7 L414.0,479.0Z"/>
<path class="l" d="M414.7,464.0 L421.2,465.6 L424.0,462.8 M421.2,465.6 L420.3,472.6 L421.2,478.7 M412.6,472.6 L420.3,472.6"/>
<ellipse class="l2" cx="423.4" cy="471.5" rx="1.10" ry="4.20"/>
<path class="w" d="M473.4,455.0 h-1.5 a3.0,7.6 0 0 0 0,15.2 h1.5"/>
<ellipse class="w" cx="473.4" cy="462.6" rx="3.00" ry="7.60"/>
<ellipse class="wd" cx="473.6" cy="462.6" rx="1.35" ry="4.56"/>
<path class="w" d="M509.2,456.2 h-1.2 a3.6,9.3 0 0 0 0,18.6 h1.2"/>
<ellipse class="w" cx="509.2" cy="465.5" rx="3.60" ry="9.30"/>
<ellipse class="wg" cx="509.5" cy="465.5" rx="2.23" ry="5.77"/>
<ellipse class="wd" cx="509.6" cy="465.5" rx="1.30" ry="3.53"/>
<path class="w" d="M457.3,466.0 h-1.5 a3.0,7.6 0 0 0 0,15.2 h1.5"/>
<ellipse class="w" cx="457.3" cy="473.6" rx="3.00" ry="7.60"/>
<ellipse class="wd" cx="457.5" cy="473.6" rx="1.35" ry="4.56"/>
<path class="w" d="M493.2,467.4 h-1.2 a3.6,9.3 0 0 0 0,18.6 h1.2"/>
<ellipse class="w" cx="493.2" cy="476.7" rx="3.60" ry="9.30"/>
<ellipse class="wg" cx="493.5" cy="476.7" rx="2.23" ry="5.77"/>
<ellipse class="wd" cx="493.6" cy="476.7" rx="1.30" ry="3.53"/>
<path class="w" d="M650.8,468.2 h-1.2 a3.6,9.3 0 0 0 0,18.6 h1.2"/>
<ellipse class="w" cx="650.8" cy="477.5" rx="3.60" ry="9.30"/>
<ellipse class="wg" cx="651.1" cy="477.5" rx="2.23" ry="5.77"/>
<ellipse class="wd" cx="651.2" cy="477.5" rx="1.30" ry="3.53"/>
<path class="w" d="M635.6,479.1 h-1.2 a3.6,9.3 0 0 0 0,18.6 h1.2"/>
<ellipse class="w" cx="635.6" cy="488.4" rx="3.60" ry="9.30"/>
<ellipse class="wg" cx="635.9" cy="488.4" rx="2.23" ry="5.77"/>
<ellipse class="wd" cx="636.0" cy="488.4" rx="1.30" ry="3.53"/>
<path class="lf" d="M745.6,481.2 L684.8,476.5 Q682.4,477.3 682.2,480.9 Q682.4,484.5 684.2,485.3 L745.6,490.0Z"/>
<path class="lf" d="M746.0,478.1 L749.4,477.4 L754.4,478.5 L755.8,482.7 L755.3,490.0 L753.0,493.0 L749.4,493.6 L746.0,492.5 L744.8,486.0Z"/>
<path class="l" d="M746.0,478.1 L750.3,478.7 L754.4,478.5 M750.3,478.7 L749.9,486.1 L751.7,493.3 M744.8,486.0 L749.9,486.1"/>
<path class="l2" d="M749.9,486.1 L755.5,486.6 M750.3,478.7 L753.2,486.0 L751.7,493.3"/>
<path class="lf" d="M730.6,492.3 L669.8,486.8 Q667.4,487.6 667.2,491.2 Q667.4,494.8 669.2,495.6 L730.6,501.1Z"/>
<path class="lf" d="M731.0,489.1 L734.4,488.5 L739.4,489.7 L740.8,493.9 L740.3,501.2 L738.0,504.2 L734.4,504.7 L731.0,503.5 L729.8,497.0Z"/>
<path class="l" d="M731.0,489.1 L735.3,489.8 L739.4,489.7 M735.3,489.8 L734.9,497.2 L736.7,504.4 M729.8,497.0 L734.9,497.2"/>
<path class="l2" d="M734.9,497.2 L740.5,497.8 M735.3,489.8 L738.2,497.2 L736.7,504.4"/>
<path class="l" d="M405.2,508.8 L405.6,501.4 Q406.4,495.4 413.3,490.2 Q419,486.2 425,485.5 Q430,485.2 435,486.7 L492.7,500 L497.3,501.3 L502.6,497.8 L507.3,499 L507.3,532.2 L499.1,540.3 L495,541 L477.5,539.2 Q468,539.6 460,541 L436.7,545 Q432.4,545.4 428.5,543.8 Q421.4,541.6 416.8,538 Q409.4,532.2 407.5,528.7 Q405.4,524.4 405.2,519.3"/>
<path class="l" d="M405.5,509.4 L414.6,509.9 Q417.4,509.9 420,506.4 A13.7,13.8 0 1 1 419.2,524.8 Q417,520.2 414.4,519.8 L405.5,518.8"/>
<path class="l" d="M407,508.8 L407.4,502 Q408.4,496.6 414.3,492 Q419.6,488.2 425.2,487.4 Q430,487 434.8,488.5 L492.5,501.8 L495.6,502.6"/>
<path class="l" d="M495,539.2 L477.5,537.4 Q468,537.8 460,539.2 L436.7,543.2 Q432.6,543.6 428.9,542.2 Q422,539.8 417.8,536.6 Q410.8,531 409.2,527.8 Q407.2,524 407,519.8"/>
<path class="l" d="M434.8,486.7 L434.6,488.5 M478,496.6 L477.6,498.4 M484,498 L483.6,499.8 M478,537.4 L478,539.2"/>
<path class="l" d="M495.6,502.6 L495.6,540.8 M499.1,504 L499.1,540.3 M497.3,501.3 L499.1,504 L507.3,499 M495.6,522 L499.1,522.2"/>
<ellipse class="l" cx="503.2" cy="519.3" rx="1.90" ry="11.60"/>
<ellipse class="l2" cx="503.5" cy="519.5" rx="1.00" ry="10.60"/>
<circle class="l" cx="429" cy="496" r="2.1"/>
<circle class="l" cx="412.2" cy="504.8" r="2.1"/>
<circle class="l" cx="446.6" cy="507.7" r="2.1"/>
<circle class="l" cx="412.2" cy="525.2" r="2.1"/>
<circle class="l" cx="446.8" cy="528" r="2.1"/>
<circle class="l" cx="429.4" cy="536.6" r="2.1"/>
<path class="l" d="M457.2,506.4 L492.6,509.8 Q493.8,510 493.8,511.2 L493.8,532.2 Q493.7,533.4 492.5,533.3 L457.6,530 Q456.5,529.8 456.5,528.6 L456.5,507.4 Q456.6,506.3 457.2,506.4Z"/>
<path class="l" d="M470.5,510.6 L491.5,512.9 L491.5,521.7 L470.5,519.4Z M481.6,522.3 L491.5,523.4 L491.5,532 L481.6,530.9Z"/>
<g transform="translate(460.1,523.2) rotate(5) " fill="none" stroke="#111" stroke-width="1.5" stroke-linejoin="miter"><path d="M0,0 V6.4 H2.3 Q3.7,6.4 3.7,4.8 Q3.7,3.2 2.3,3.2 H0 M2.3,3.2 Q3.4,3.2 3.4,1.6 Q3.4,0 2.1,0 H0"/><path transform="translate(4.9,0)" d="M3.5,0 H0 V6.4 H3.5 M0,3.2 H3.1"/><path transform="translate(9.5,0)" d="M0,6.4 V0 H2.2 Q3.6,0 3.6,1.7 Q3.6,3.4 2.2,3.4 H0 M2.1,3.4 L3.8,6.4"/><path transform="translate(14.2,0)" d="M3.8,1.5 Q3.4,0 2.1,0 Q0,0 0,3.2 Q0,6.4 2.1,6.4 Q3.8,6.4 3.8,4.4 V3.5 H2.2"/></g>
<g transform="translate(0.0,0.0)">
<path class="lf" d="M566.2,522.2 L558.7,521.4 Q556.4,522.4 555.1,524.5 L553.7,528.6 Q552.6,531.2 551.1,532.2 Q549.4,533.4 547.5,533.5 L541.6,534 Q539.6,534.6 539,536.2 Q537.7,538.6 537.6,541.6 L537.6,564 Q537.8,566.4 539,567.1 L546.6,568.5 L546.6,536 Z"/>
<path class="lf" d="M566.2,522.2 Q568.8,522.6 569,525.4 L569.2,543 Q569,548 566.4,551.6 L563.4,555.6 Q562,557.4 560.4,556.6 Q556,557.6 554.2,559.5 Q552.4,562 551.5,564.9 Q550.4,568 547.9,568.5 L546.6,568.5 Q545.2,568 545.2,565.8 L544.8,547.8 Q544.9,543.4 545.7,540.7 Q546.4,537.6 547.5,536.2 Q548.6,534.4 549.7,534.4 Q551.6,536.6 553.3,536.2 L558.7,533.1 Q560.6,531.4 561.4,529.5 L563.6,525.4 Q564.6,522.4 566.2,522.2Z"/>
<path class="lm" d="M556,524.5 L563.2,525.4 M554.6,528.1 L560.9,529 M551.5,531.7 L558.7,533.1"/>
<path class="l" d="M537.6,545.6 L544.8,545.3 M537.6,560.8 L545.2,561.1 M547.5,533.5 L549.7,534.4"/>
<ellipse class="l" cx="564.5" cy="539.3" rx="1.40" ry="3.60"/>
<ellipse class="l" cx="549.3" cy="551.0" rx="1.50" ry="3.80"/>
<path class="lb" d="M559.4,556.2 Q561,555.6 562.4,557.2"/>
</g>
<g transform="translate(27.4,2.4)">
<path class="lf" d="M566.2,522.2 L558.7,521.4 Q556.4,522.4 555.1,524.5 L553.7,528.6 Q552.6,531.2 551.1,532.2 Q549.4,533.4 547.5,533.5 L541.6,534 Q539.6,534.6 539,536.2 Q537.7,538.6 537.6,541.6 L537.6,564 Q537.8,566.4 539,567.1 L546.6,568.5 L546.6,536 Z"/>
<path class="lf" d="M566.2,522.2 Q568.8,522.6 569,525.4 L569.2,543 Q569,548 566.4,551.6 L563.4,555.6 Q562,557.4 560.4,556.6 Q556,557.6 554.2,559.5 Q552.4,562 551.5,564.9 Q550.4,568 547.9,568.5 L546.6,568.5 Q545.2,568 545.2,565.8 L544.8,547.8 Q544.9,543.4 545.7,540.7 Q546.4,537.6 547.5,536.2 Q548.6,534.4 549.7,534.4 Q551.6,536.6 553.3,536.2 L558.7,533.1 Q560.6,531.4 561.4,529.5 L563.6,525.4 Q564.6,522.4 566.2,522.2Z"/>
<path class="lm" d="M556,524.5 L563.2,525.4 M554.6,528.1 L560.9,529 M551.5,531.7 L558.7,533.1"/>
<path class="l" d="M537.6,545.6 L544.8,545.3 M537.6,560.8 L545.2,561.1 M547.5,533.5 L549.7,534.4"/>
<ellipse class="l" cx="564.5" cy="539.3" rx="1.40" ry="3.60"/>
<ellipse class="l" cx="549.3" cy="551.0" rx="1.50" ry="3.80"/>
<path class="lb" d="M559.4,556.2 Q561,555.6 562.4,557.2"/>
</g>
<path class="l" d="M505.8,581.7 L506.3,610 Q506.6,620 510,626.7 Q513.4,633.6 518.3,638.3 Q523,642.4 528.3,642.5 Q533,642.2 536.7,640 L542.5,635.8 L590.8,600.8 L590.8,585 Q589.6,582.4 586.7,580.8 Q583.6,578.4 580,578 Q576.4,578 573.3,580 L532.5,609.7 Q530.4,607.6 529.6,603.3 L529.2,582.5"/>
<path class="l" d="M506,593 Q518,595.6 529.4,593.4 M506.2,602.4 Q518,605 529.6,602.8"/>
<path class="l" d="M532.5,609.7 Q535.4,613.6 536,618.3 Q537.2,624 536.6,628.3 Q535,633 530,635.6 Q525,638.4 520,638.3 Q514,636.6 510.6,627"/>
<path class="l" d="M535.8,616.6 Q540.4,619.6 542,623.4 Q543.8,627.8 543.6,631 Q543.4,633.8 542.5,635.8"/>
<path class="l" d="M560.8,604.2 L590.8,584.2 M561.3,605.4 L590.8,585.6 M560.8,604.2 L562.5,621.7"/>
<path class="lb" d="M562.5,621.7 L590.8,600.8"/>
<ellipse class="l" cx="569.7" cy="607.5" rx="2.00" ry="4.20"/>
<ellipse class="l" cx="585.3" cy="595.8" rx="2.00" ry="4.20"/>
<circle class="lf" cx="517" cy="566.7" r="18.9"/>
<path class="l" d="M505.6,581.6 Q518,586.6 530.8,582.2"/>
<ellipse class="l" cx="517.6" cy="552.0" rx="6.60" ry="1.90"/>
<path class="l" d="M936.7,400.8 L1029.6,335.2 Q1031,333.9 1033.4,333.8 L1065,334.2 Q1073,334.8 1078.7,338.2 Q1084.6,341.4 1087.4,346.2 L1093.6,361.4 Q1094.4,363.6 1094.2,366.6 Q1093.8,367.8 1093,368.4 L1022.1,418.6"/>
<path class="l" d="M941.7,399.7 L988.6,366 Q989.6,365 990,363.6"/>
<path class="l" d="M991.4,403.2 L1078.6,338.4"/>
<path class="l" d="M1000.6,407.2 L1087.2,346.2"/>
<path class="l" d="M932.5,408.7 Q932.6,404.4 934.6,402.3 Q936.6,399.6 939.6,399.4 L991.2,403.4 Q994.6,403.8 997,405.8 Q999,407.6 1000.4,410 L1012.2,423.8 L1013.3,425 L1008.7,429.1 L1006.3,427.9"/>
<path class="l" d="M937.5,409.3 Q937.6,406.2 941,405.2 L990,408.4 Q993,408.8 994.7,411 L1004.6,425 L1006.3,427.9"/>
<path class="l" d="M932.5,408.7 L932.5,444.8 Q932.8,447.4 934.6,447.8 L939.3,448.1 L953.8,437.8"/>
<path class="l" d="M937.5,409.3 L937.5,443.7 Q937.6,446.6 939.3,448.1 M932.6,443.4 L937.5,443.8"/>
<path class="l" d="M951.5,405.8 L951.5,436"/>
<path class="l" d="M951.5,436 L953.8,437.4 L980.7,439.6 Q983.4,439.4 985.3,437.8 L1004,427.3"/>
<ellipse class="l" cx="946.5" cy="419.9" rx="1.90" ry="4.60"/>
<path class="l" d="M1012.2,423.8 Q1011.4,418.6 1013.3,415.1 Q1015,412.6 1017.4,413.4 Q1019.6,414.6 1022.1,418.6"/>
<path class="l" d="M1014.2,422.2 Q1013.8,418 1015.4,416.2 Q1017,415 1018.6,416.6 L1020.4,419.8"/>
<ellipse class="l" cx="991.7" cy="383.1" rx="6.60" ry="1.80"/>
<path class="k" d="M961.6,388 L973.4,388.7 L972.6,390.6 L960.8,389.9Z"/>
<ellipse class="l" cx="1048.0" cy="337.5" rx="5.00" ry="1.40"/>
<path class="w" d="M1051.4,415.9 h-1.2 a3.6,9.3 0 0 0 0,18.6 h1.2"/>
<ellipse class="w" cx="1051.4" cy="425.2" rx="3.60" ry="9.30"/>
<ellipse class="wg" cx="1051.7" cy="425.2" rx="2.23" ry="5.77"/>
<ellipse class="wd" cx="1051.8" cy="425.2" rx="1.30" ry="3.53"/>
<path class="w" d="M1080.6,420.3 h-1.5 a3.0,7.6 0 0 0 0,15.2 h1.5"/>
<ellipse class="w" cx="1080.6" cy="427.9" rx="3.00" ry="7.60"/>
<ellipse class="wd" cx="1080.8" cy="427.9" rx="1.35" ry="4.56"/>
<path class="lf" d="M1119.6,433.0 L1121.7,424.4 L1124.2,423.0 L1131.0,423.2 L1132.3,427.8 L1132.3,433.7 L1131.0,437.3 L1128.2,439.1 L1121.0,439.4Z"/>
<path class="l" d="M1121.7,424.4 L1128.2,426.0 L1131.0,423.2 M1128.2,426.0 L1127.3,433.0 L1128.2,439.1 M1119.6,433.0 L1127.3,433.0"/>
<ellipse class="l2" cx="1130.4" cy="431.9" rx="1.10" ry="4.20"/>
<path class="w" d="M1038.3,440.8 h-1.2 a3.6,9.3 0 0 0 0,18.6 h1.2"/>
<ellipse class="w" cx="1038.3" cy="450.1" rx="3.60" ry="9.30"/>
<ellipse class="wg" cx="1038.6" cy="450.1" rx="2.23" ry="5.77"/>
<ellipse class="wd" cx="1038.7" cy="450.1" rx="1.30" ry="3.53"/>
<path class="w" d="M1067.6,445.0 h-1.5 a3.0,7.6 0 0 0 0,15.2 h1.5"/>
<ellipse class="w" cx="1067.6" cy="452.6" rx="3.00" ry="7.60"/>
<ellipse class="wd" cx="1067.8" cy="452.6" rx="1.35" ry="4.56"/>
<path class="lf" d="M1108.0,451.5 L1085.2,449.4 Q1082.8,450.2 1082.6,453.8 Q1082.8,457.4 1084.6,458.2 L1108.0,460.3Z"/>
<path class="lf" d="M1108.4,448.4 L1111.8,447.8 L1116.8,448.9 L1118.2,453.1 L1117.7,460.4 L1115.4,463.4 L1111.8,464.0 L1108.4,462.8 L1107.2,456.3Z"/>
<path class="l" d="M1108.4,448.4 L1112.7,449.0 L1116.8,448.9 M1112.7,449.0 L1112.3,456.4 L1114.1,463.7 M1107.2,456.3 L1112.3,456.4"/>
<path class="l2" d="M1112.3,456.4 L1117.9,457.0 M1112.7,449.0 L1115.6,456.4 L1114.1,463.7"/>
<path class="c" d="M287.6,131.0 L287.6,151.5"/>
<path class="c" d="M287.6,160.5 L287.6,187.5"/>
<path class="c" d="M288.0,240.5 L288.2,274.0"/>
<path class="c" d="M220.0,175.5 L220.0,195.5"/>
<path class="c" d="M221.0,283.0 L221.6,318.5"/>
<path class="c" d="M289.3,305.0 L289.4,341.0"/>
<path class="c" d="M289.6,394.5 L290.0,406.0"/>
<path class="c" d="M290.0,413.5 L290.0,448.5"/>
<path class="c" d="M290.0,455.0 L290.6,482.0"/>
<path class="c" d="M222.8,377.0 L223.0,451.0"/>
<path class="c" d="M223.0,458.5 L223.0,493.0"/>
<path class="c" d="M223.0,499.5 L223.0,527.0"/>
<path class="c" d="M1045.8,217.0 L1045.8,235.5"/>
<path class="c" d="M1045.8,244.5 L1045.8,261.5"/>
<path class="c" d="M1047.0,313.5 L1047.5,337.0"/>
<path class="c" d="M989.5,263.0 L989.5,281.5"/>
<path class="c" d="M989.5,290.5 L989.5,307.5"/>
<path class="c" d="M990.3,359.5 L991.2,383.0"/>
<path class="c" d="M1047.6,401.7 L1048.2,477.0"/>
<path class="c" d="M1048.4,485.0 L1048.8,511.0"/>
<path class="c" d="M1048.8,517.5 L1049.0,546.0"/>
<path class="c" d="M990.6,425.0 L991.4,522.5"/>
<path class="c" d="M991.6,530.0 L992.0,556.5"/>
<path class="c" d="M992.0,563.0 L992.2,591.5"/>
<path class="c" d="M83.6,345.0 L101.0,346.4"/>
<path class="c" d="M109.6,347.1 L131.0,348.9"/>
<path class="c" d="M140.4,349.7 L156.5,351.0"/>
<path class="c" d="M172.0,352.4 L226.5,360.0"/>
<path class="c" d="M241.5,361.4 L252.0,361.7"/>
<path class="c" d="M255.0,361.8 L283.5,362.4"/>
<path class="c" d="M243.0,364.2 L283.5,365.4"/>
<path class="c" d="M78.5,370.0 L95.0,371.2"/>
<path class="c" d="M103.5,371.8 L118.0,372.9"/>
<path class="c" d="M128.0,373.7 L179.2,377.5 L179.2,356.7"/>
<path class="c" d="M893.5,413.2 L932.5,417.0"/>
<path class="c" d="M898.8,415.8 L932.5,419.2"/>
<path class="c" d="M332.5,345.8 L332.5,323.7 L353.0,325.4"/>
<path class="c" d="M362.5,326.2 L388.0,328.3"/>
<path class="c" d="M788.5,365.8 L825.0,369.0"/>
<path class="c" d="M834.5,369.9 L860.0,371.8 L860.0,390.0"/>
<path class="c" d="M441.7,460.0 L470.0,462.4"/>
<path class="c" d="M477.0,463.0 L505.0,465.4"/>
<path class="c" d="M513.5,466.1 L530.0,467.5"/>
<path class="c" d="M425.3,470.8 L454.0,473.2"/>
<path class="c" d="M461.0,473.8 L489.0,476.2"/>
<path class="c" d="M497.0,476.9 L529.5,479.6"/>
<path class="c" d="M520.0,479.4 L520.0,512.0 L505.8,511.3"/>
<path class="c" d="M598.0,473.2 L646.5,477.2"/>
<path class="c" d="M655.0,477.9 L682.5,480.1"/>
<path class="c" d="M583.0,484.0 L631.0,487.9"/>
<path class="c" d="M640.0,488.6 L667.5,490.9"/>
<path class="c" d="M926.5,416.4 L932.5,417.0"/>
<path class="c" d="M926.5,418.7 L932.5,419.2"/>
<path class="c" d="M948.0,420.3 L991.0,424.4"/>
<path class="c" d="M1014.5,422.2 L1119.5,431.2"/>
<path class="c" d="M991.2,446.6 L1083.0,454.2"/>
<path class="ld" d="M213.0,33.3 L286.7,50.8"/>
<path class="ld" d="M213.0,33.3 L219.2,94.2"/>
<path class="ld" d="M49.7,281.2 L75.0,342.2"/>
<path class="ld" d="M37.0,396.7 L45.8,375.5"/>
<path class="ld" d="M179.2,290.0 L200.0,326.7"/>
<circle class="d" cx="200.0" cy="326.7" r="1.9"/>
<path class="ld" d="M277.0,547.0 L228.3,534.5"/>
<path class="ld" d="M277.0,547.0 L291.3,490.3"/>
<path class="ld" d="M395.2,447.0 L433.0,457.0"/>
<path class="ld" d="M395.2,447.0 L417.2,469.7"/>
<path class="ld" d="M434.2,302.2 L420.8,327.5"/>
<path class="ld" d="M590.8,348.0 L575.6,371.3"/>
<circle class="d" cx="575.6" cy="371.3" r="1.9"/>
<path class="ld" d="M745.8,324.2 L755.8,358.3"/>
<path class="ld" d="M780.0,520.5 L753.3,487.2"/>
<path class="ld" d="M780.0,520.5 L738.7,497.5"/>
<path class="ld" d="M618.3,575.3 L556.0,541.5"/>
<path class="ld" d="M618.3,575.3 L587.0,545.5"/>
<path class="ld" d="M477.5,604.2 L517.0,569.2"/>
<circle class="d" cx="517.0" cy="569.2" r="1.9"/>
<path class="ld" d="M401.8,573.0 L439.1,535.0"/>
<circle class="d" cx="439.1" cy="535.0" r="1.9"/>
<path class="ld" d="M977.5,118.3 L1045.0,136.7"/>
<path class="ld" d="M977.5,118.3 L988.3,182.0"/>
<path class="ld" d="M1100.0,309.2 L1042.5,352.0"/>
<circle class="d" cx="1042.5" cy="352.0" r="1.9"/>
<path class="ld" d="M1151.0,378.0 L1129.7,431.7"/>
<path class="ld" d="M1134.2,495.3 L1115.0,456.7"/>
<path class="ld" d="M1044.2,608.3 L996.3,598.5"/>
<path class="ld" d="M1044.2,608.3 L1050.0,553.0"/>
<circle class="d" cx="287.0" cy="52.1" r="1.7"/>
<circle class="d" cx="219.5" cy="95.9" r="1.7"/>
<circle class="d" cx="291.3" cy="490.3" r="1.9"/>
<circle class="d" cx="228.3" cy="534.5" r="1.9"/>
<circle class="d" cx="1045.2" cy="137.3" r="1.7"/>
<circle class="d" cx="988.6" cy="182.7" r="1.7"/>
<circle class="d" cx="1050.0" cy="553.0" r="1.9"/>
<circle class="d" cx="996.3" cy="598.5" r="1.9"/>
<circle class="d" cx="75.0" cy="342.2" r="1.9"/>
<circle class="d" cx="48.0" cy="367.6" r="1.9"/>
<circle class="d" cx="420.2" cy="329.2" r="1.6"/>
<circle class="d" cx="756.3" cy="363.8" r="2"/>
<circle class="d" cx="433.0" cy="457.0" r="1.9"/>
<circle class="d" cx="417.2" cy="469.7" r="1.9"/>
<circle class="d" cx="753.3" cy="487.2" r="1.7"/>
<circle class="d" cx="738.7" cy="497.5" r="1.7"/>
<circle class="d" cx="556.0" cy="541.5" r="2"/>
<circle class="d" cx="587.0" cy="545.5" r="2"/>
<circle class="d" cx="517.0" cy="569.2" r="2"/>
<circle class="d" cx="1129.7" cy="431.7" r="1.9"/>
<circle class="d" cx="1115.4" cy="456.7" r="1.7"/>
</svg>
</body></html>
